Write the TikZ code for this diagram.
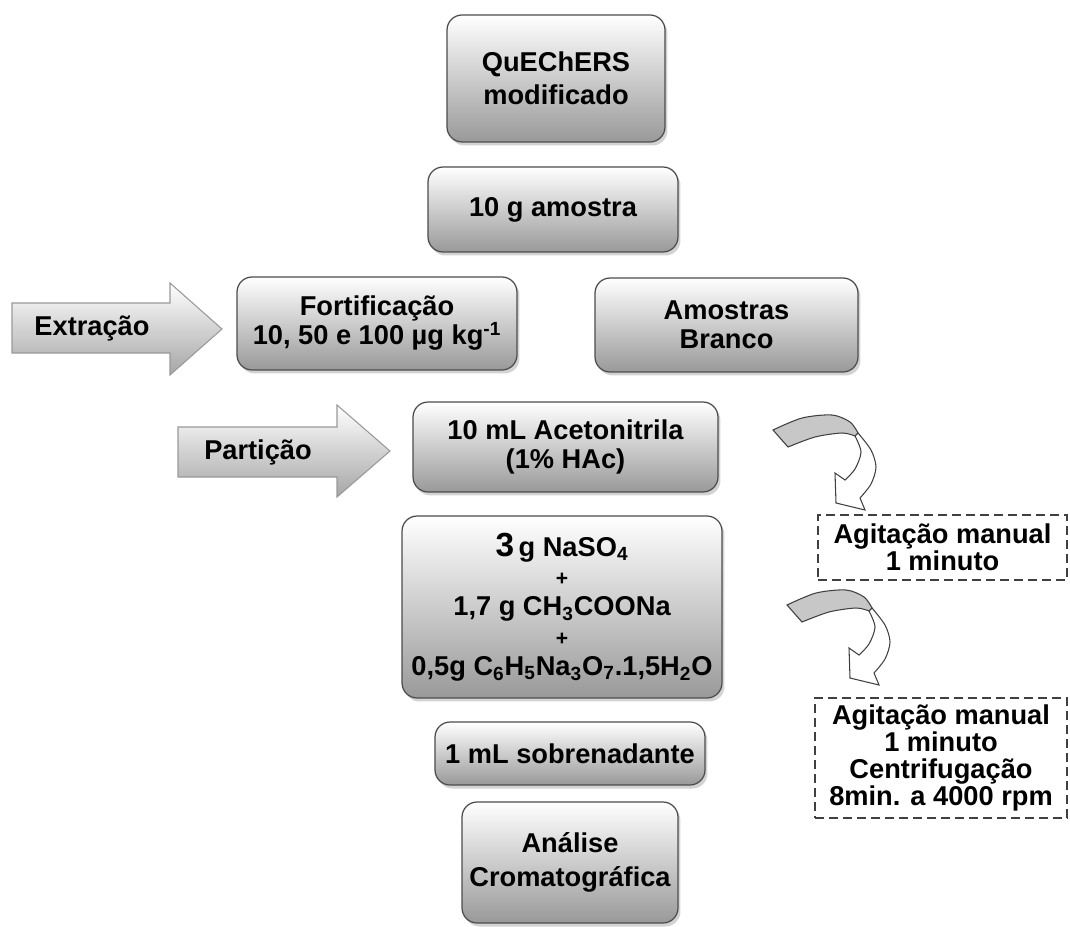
\documentclass[tikz,border=0pt]{standalone}
\usepackage{fontspec}
\setmainfont{Liberation Sans}
\usetikzlibrary{shadows}

\tikzset{
  caixa/.style={rectangle, rounded corners=0.3cm, draw=black!70, line width=0.7pt,
    top color=white, bottom color=black!40, align=center, inner sep=2pt,
    drop shadow={opacity=0.35, shadow xshift=0.05cm, shadow yshift=-0.07cm},
    font=\fontsize{15.5}{16.5}\selectfont\bfseries},
  tracejada/.style={rectangle, draw=black!75, line width=0.9pt,
    dash pattern=on 0.18cm off 0.1cm, align=center,
    font=\fontsize{15.5}{15.2}\selectfont\bfseries},
  seta/.style={top color=white, bottom color=black!35, draw=black!40, line width=0.6pt},
  rotulo/.style={font=\fontsize{15.5}{16}\selectfont\bfseries},
  curva/.pic={
    \filldraw[fill=black!22, draw=black!75, line width=0.6pt]
      plot[smooth] coordinates {(8,30) (37,18) (67,15) (85,22) (93,33)} -- (90,36)
      -- plot[smooth] coordinates {(90,36) (77,33) (50,37) (23,47)} -- cycle;
    \filldraw[fill=white, draw=black!75, line width=0.6pt]
      plot[smooth] coordinates {(93,33) (106,50) (111,67) (106,84) (95,98)}
      -- (100,110) -- (71,103) -- (70,73) -- (80,80)
      -- plot[smooth] coordinates {(80,80) (90,69) (96,52) (90,36)} -- cycle;
  }
}

\begin{document}
\begin{tikzpicture}[x=0.02cm, y=-0.02cm]
\useasboundingbox (0,0) rectangle (1070,926);

\node[caixa, minimum width=4.36cm, minimum height=2.54cm, font=\fontsize{15.5}{19}\selectfont\bfseries] (quechers) at (556,78.5) {QuEChERS\\modificado};
\node[caixa, minimum width=5cm, minimum height=1.7cm] (amostra) at (553,209.5) {10 g amostra};
\node[caixa, minimum width=5.6cm, minimum height=1.86cm] (fortificacao) at (377,323.5) {Fortificação\\10, 50 e 100 µg kg\textsuperscript{-1}};
\node[caixa, minimum width=5.26cm, minimum height=1.88cm] (branco) at (726.5,325) {Amostras\\Branco};
\node[caixa, minimum width=6.1cm, minimum height=1.8cm] (acetonitrila) at (565.5,447) {10 mL Acetonitrila\\(1\% HAc)};
\node[caixa, minimum width=6.4cm, minimum height=3.64cm, font=\fontsize{15.5}{17}\selectfont\bfseries] (sais) at (562,607)
  {{\fontsize{19}{17}\selectfont 3}\,g NaSO\textsubscript{4}\\{\fontsize{12}{17}\selectfont +}\\1,7 g CH\textsubscript{3}COONa\\{\fontsize{12}{17}\selectfont +}\\0,5g C\textsubscript{6}H\textsubscript{5}Na\textsubscript{3}O\textsubscript{7}.1,5H\textsubscript{2}O};
\node[caixa, minimum width=5.4cm, minimum height=1.26cm] (sobrenadante) at (570,753.5) {1 mL sobrenadante};
\node[caixa, minimum width=4.32cm, minimum height=2.42cm, font=\fontsize{15.5}{19.5}\selectfont\bfseries] (analise) at (570,862.5) {Análise\\Cromatográfica};

\path[seta] (12,303) -- (170,303) -- (170,283) -- (222,329) -- (170,375) -- (170,353) -- (12,353) -- cycle;
\node[rotulo] (extracao) at (92,329) {Extração};
\path[seta] (178,427) -- (337,427) -- (337,405) -- (390,451) -- (337,497) -- (337,477) -- (178,477) -- cycle;
\node[rotulo] (particao) at (258,452) {Partição};

\node[tracejada, minimum width=4.98cm, minimum height=1.3cm] (agitacao) at (942.5,547.5) {Agitação manual\\1 minuto};
\node[tracejada, minimum width=5.04cm, minimum height=2.4cm] (centrifugacao) at (941,758) {Agitação manual\\1 minuto\\Centrifugação\\8min. a 4000 rpm};

\pic at (765,400) {curva};
\pic at (779,575) {curva};

\end{tikzpicture}
\end{document}
